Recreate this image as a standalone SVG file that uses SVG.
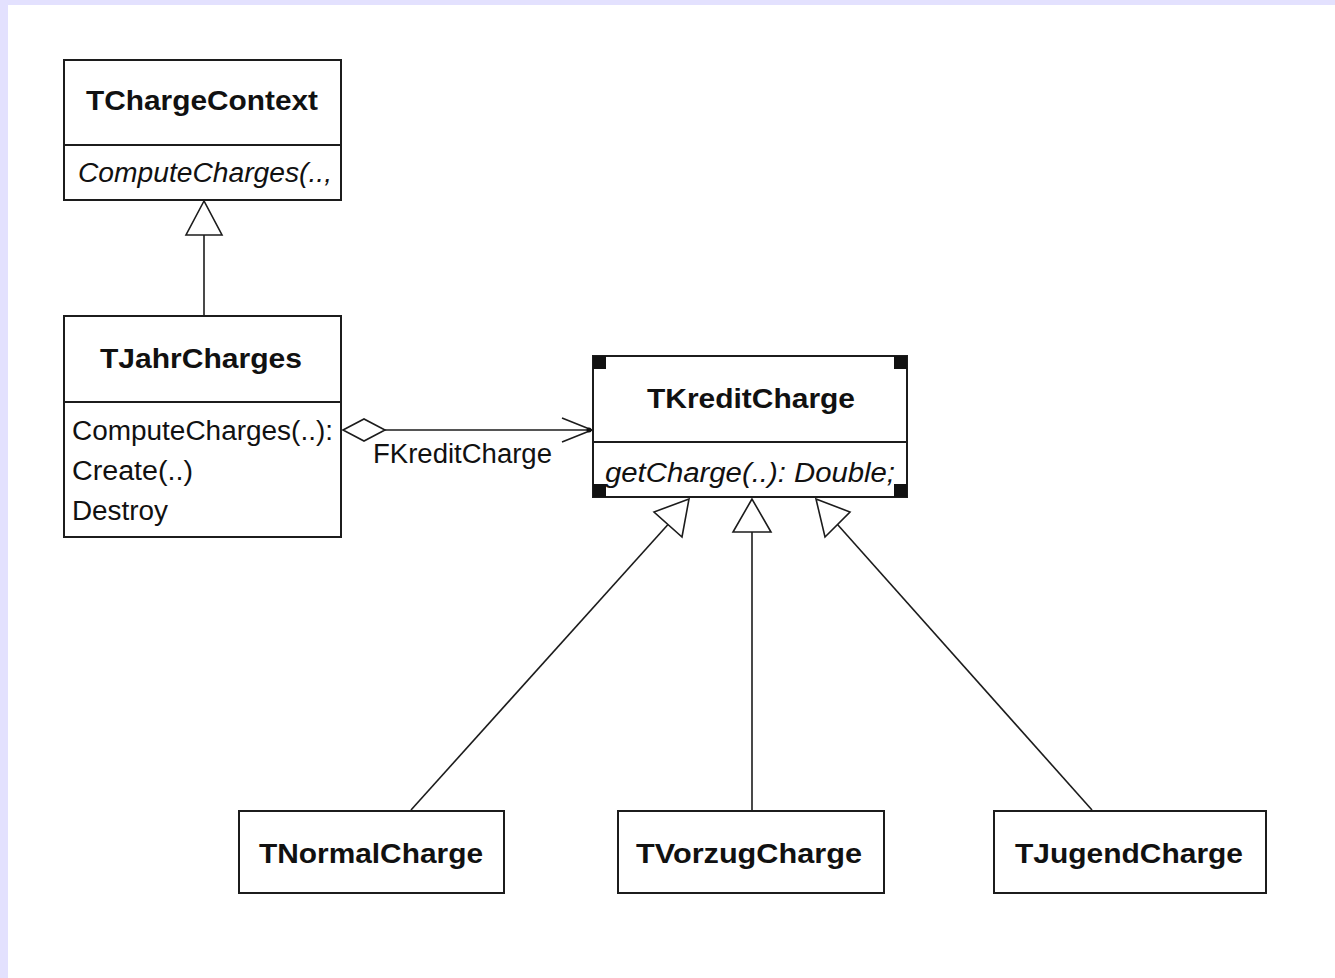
<svg xmlns="http://www.w3.org/2000/svg" width="1335" height="978" viewBox="0 0 1335 978">
<style>
.box{fill:#fff;stroke:#1c1c1c;stroke-width:2}
.sep{stroke:#1c1c1c;stroke-width:2}
.ln{stroke:#1c1c1c;stroke-width:1.6;fill:none}
.head{fill:#fff;stroke:#1c1c1c;stroke-width:1.6}
.t{font-family:"Liberation Sans",Arial,sans-serif;font-weight:bold;font-size:28px;fill:#111}
.m{font-family:"Liberation Sans",Arial,sans-serif;font-size:27px;fill:#111}
.i{font-style:italic}
.hdl{fill:#111}
</style>
<rect x="0" y="0" width="1335" height="978" fill="#e3e1fe"/>
<rect x="8" y="5" width="1327" height="973" fill="#fff"/>

<g id="connectors">
  <line class="ln" x1="204" y1="316" x2="204" y2="235"/>
  <polygon class="head" points="204,201 186,235 222,235"/>
  <line class="ln" x1="385" y1="430" x2="592" y2="430"/>
  <polygon class="head" points="343,430 364,419 385,430 364,441"/>
  <polyline class="ln" points="562,418 592,430 562,442"/>
  <circle cx="589" cy="430" r="2.5" fill="#111"/>
  <line class="ln" x1="752" y1="810" x2="752" y2="532"/>
  <polygon class="head" points="752,499 733,532 771,532"/>
  <line class="ln" x1="411" y1="810" x2="668" y2="524.5"/>
  <polygon class="head" points="689,499 654,512 682,537"/>
  <line class="ln" x1="1092" y1="810" x2="837.5" y2="524.5"/>
  <polygon class="head" points="816,499 850,512 825,537"/>
  <text class="m" x="373" y="463" textLength="179" lengthAdjust="spacingAndGlyphs">FKreditCharge</text>
</g>

<g id="TChargeContext">
  <rect class="box" x="64" y="60" width="277" height="140"/>
  <line class="sep" x1="64" y1="145" x2="341" y2="145"/>
  <text class="t" x="86" y="110" textLength="232" lengthAdjust="spacingAndGlyphs">TChargeContext</text>
  <text class="m i" x="78" y="182" textLength="254" lengthAdjust="spacingAndGlyphs">ComputeCharges(..,</text>
</g>

<g id="TJahrCharges">
  <rect class="box" x="64" y="316" width="277" height="221"/>
  <line class="sep" x1="64" y1="402" x2="341" y2="402"/>
  <text class="t" x="100" y="368" textLength="202" lengthAdjust="spacingAndGlyphs">TJahrCharges</text>
  <text class="m" x="72" y="440" textLength="261" lengthAdjust="spacingAndGlyphs">ComputeCharges(..):</text>
  <text class="m" x="72" y="480" textLength="121" lengthAdjust="spacingAndGlyphs">Create(..)</text>
  <text class="m" x="72" y="520" textLength="96" lengthAdjust="spacingAndGlyphs">Destroy</text>
</g>

<g id="TKreditCharge">
  <rect class="box" x="593" y="356" width="314" height="141"/>
  <line class="sep" x1="593" y1="442" x2="907" y2="442"/>
  <text class="t" x="647" y="408" textLength="208" lengthAdjust="spacingAndGlyphs">TKreditCharge</text>
  <text class="m i" x="605" y="482" textLength="290" lengthAdjust="spacingAndGlyphs">getCharge(..): Double;</text>
  <rect class="hdl" x="593" y="356" width="13" height="13"/>
  <rect class="hdl" x="894" y="356" width="13" height="13"/>
  <rect class="hdl" x="593" y="484" width="13" height="13"/>
  <rect class="hdl" x="894" y="484" width="13" height="13"/>
</g>

<g id="TNormalCharge">
  <rect class="box" x="239" y="811" width="265" height="82"/>
  <text class="t" x="259" y="863" textLength="224" lengthAdjust="spacingAndGlyphs">TNormalCharge</text>
</g>

<g id="TVorzugCharge">
  <rect class="box" x="618" y="811" width="266" height="82"/>
  <text class="t" x="636" y="863" textLength="226" lengthAdjust="spacingAndGlyphs">TVorzugCharge</text>
</g>

<g id="TJugendCharge">
  <rect class="box" x="994" y="811" width="272" height="82"/>
  <text class="t" x="1015" y="863" textLength="228" lengthAdjust="spacingAndGlyphs">TJugendCharge</text>
</g>
</svg>
